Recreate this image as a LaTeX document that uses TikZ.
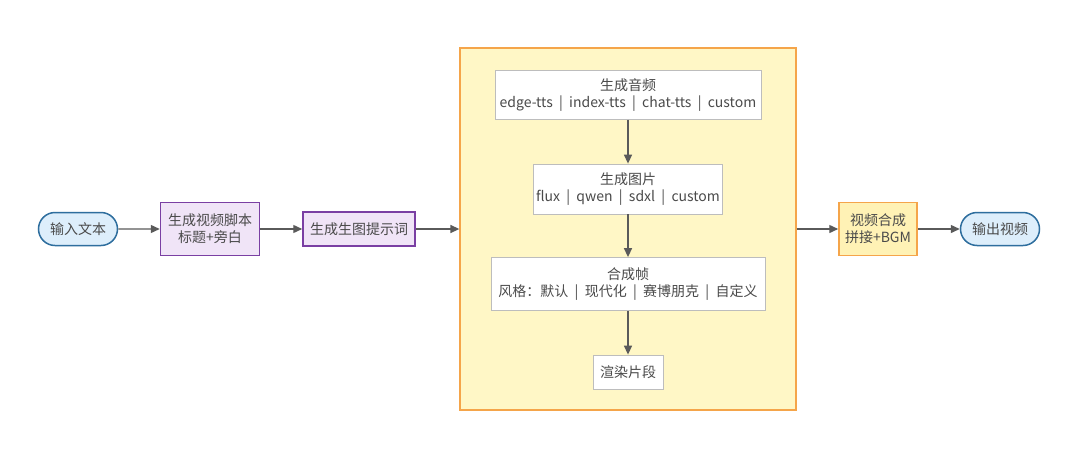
\documentclass[tikz,border=0pt]{standalone}
\usepackage{fontspec}
\setmainfont{Noto Sans CJK SC}
\usetikzlibrary{arrows.meta,shapes.misc}
\definecolor{txt}{HTML}{4A4A4A}
\definecolor{arr}{HTML}{5A5A5A}
\definecolor{termfill}{HTML}{DDEEFB}
\definecolor{termdraw}{HTML}{2E6E9E}
\definecolor{purfill}{HTML}{F0E4F7}
\definecolor{purdraw}{HTML}{7A3FA3}
\definecolor{contfill}{HTML}{FFF7C6}
\definecolor{orng}{HTML}{F5A54A}
\definecolor{vfill}{HTML}{FFF2B5}
\definecolor{gbox}{HTML}{BDBDBD}
\newcommand{\vsep}{\hspace{0.45em}|\hspace{0.45em}}
\tikzset{
  every node/.style={font=\fontsize{14}{17}\selectfont, text=txt, align=center, inner sep=0pt},
  term/.style={rounded rectangle, draw=termdraw, fill=termfill, line width=1.5pt, minimum width=79pt, minimum height=33pt},
  pur/.style={rectangle, draw=purdraw, fill=purfill, line width=1.5pt},
  inner/.style={rectangle, draw=gbox, fill=white, line width=0.8pt},
  vid/.style={rectangle, draw=orng, fill=vfill, line width=1.5pt},
  conn/.style={draw=arr, line width=1.4pt, -{Triangle[length=9pt,width=8pt]}}
}
\begin{document}
\begin{tikzpicture}[x=1pt,y=-1pt]
\useasboundingbox (0,0) rectangle (1080,453);
\fill[white] (0,0) rectangle (1080,453);
\node[draw=orng, fill=contfill, line width=1.3pt, minimum width=336pt, minimum height=362pt] (cont) at (628,229) {};
\node[term] (in) at (78,229) {输入文本};
\node[pur, minimum width=99pt, minimum height=53pt] (script) at (210,229) {生成视频脚本\\标题+旁白};
\node[pur, minimum width=112pt, minimum height=34pt] (prompt) at (359,229) {生成生图提示词};
\node[inner, minimum width=266pt, minimum height=49pt] (audio) at (628,95) {生成音频\\edge-tts\vsep index-tts\vsep chat-tts\vsep custom};
\node[inner, minimum width=189pt, minimum height=50pt] (img) at (628,189) {生成图片\\flux\vsep qwen\vsep sdxl\vsep custom};
\node[inner, minimum width=274pt, minimum height=53pt] (frame) at (628,284) {合成帧\\风格：默认\vsep 现代化\vsep 赛博朋克\vsep 自定义};
\node[inner, minimum width=70pt, minimum height=34pt] (render) at (628,372) {渲染片段};
\node[vid, minimum width=78pt, minimum height=53pt] (compose) at (878,229) {视频合成\\拼接+BGM};
\node[term] (out) at (1000,229) {输出视频};
\draw[conn] (in) -- (script);
\draw[conn] (script) -- (prompt);
\draw[conn] (prompt) -- (prompt -| cont.west);
\draw[conn] (audio) -- (img);
\draw[conn] (img) -- (frame);
\draw[conn] (frame) -- (render);
\draw[conn] (cont.east |- compose) -- (compose);
\draw[conn] (compose) -- (out);
\end{tikzpicture}
\end{document}
